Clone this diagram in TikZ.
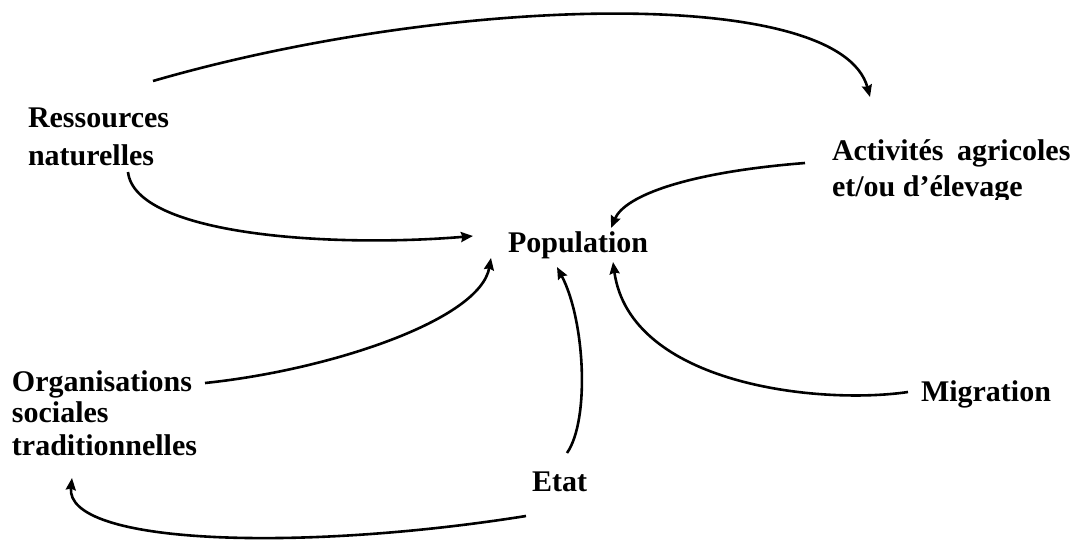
\documentclass[tikz,border=0pt]{standalone}
\usepackage{fontspec}
\setmainfont{Liberation Serif}
\usetikzlibrary{arrows.meta}
\tikzset{
  lbl/.style={anchor=base west, inner sep=0pt, outer sep=0pt, font=\fontsize{30}{30}\selectfont\bfseries},
  conn/.style={line width=2.6pt, -{Stealth[length=12pt,width=10pt,inset=1.5pt]}},
}
\begin{document}
\begin{tikzpicture}[x=1pt,y=-1pt]
\useasboundingbox (0,0) rectangle (1081,541);
% labels
\node[lbl] (res) at (28,127) {\begin{tabular}[t]{@{}l@{}}Ressources\\[8pt]naturelles\end{tabular}};
\node[lbl] (pop) at (508,252) {Population};
\begin{scope}
\clip (800,0) rectangle (1081,199);
\node[lbl] (act) at (832,160) {\begin{tabular}[t]{@{}l@{}}Activités\hspace{6pt} agricoles\\[6pt]et/ou d’élevage\end{tabular}};
\end{scope}
\node[lbl] (org) at (12,391) {\begin{tabular}[t]{@{}l@{}}Organisations\\[1pt]sociales\\[3pt]traditionnelles\end{tabular}};
\node[lbl] (mig) at (921,401) {Migration};
\node[lbl] (etat) at (532,491) {Etat};
% connector end points
\coordinate (a1s) at (153,81);   \coordinate (a1e) at (870,97);
\coordinate (a2s) at (128,172);  \coordinate (a2e) at (473,236);
\coordinate (a3s) at (805,163);  \coordinate (a3e) at (611,228);
\coordinate (a4s) at (205,383);  \coordinate (a4e) at (491,258);
\coordinate (a5s) at (567,453);  \coordinate (a5e) at (557,267);
\coordinate (a6s) at (908,392);  \coordinate (a6e) at (613,262);
\coordinate (a7s) at (526,516);  \coordinate (a7e) at (72,478);
% connectors
\draw[conn] (a1s) .. controls (450,-5) and (840,-15) .. (a1e);
\draw[conn] (a2s) .. controls (135,235) and (330,248) .. (a2e);
\draw[conn] (a3s) .. controls (690,172) and (625,195) .. (a3e);
\draw[conn] (a4s) .. controls (330,370) and (480,320) .. (a4e);
\draw[conn] (a5s) .. controls (590,420) and (585,320) .. (a5e);
\draw[conn] (a6s) .. controls (820,405) and (630,385) .. (a6e);
\draw[conn] (a7s) .. controls (300,552) and (65,545) .. (a7e);
\end{tikzpicture}
\end{document}
